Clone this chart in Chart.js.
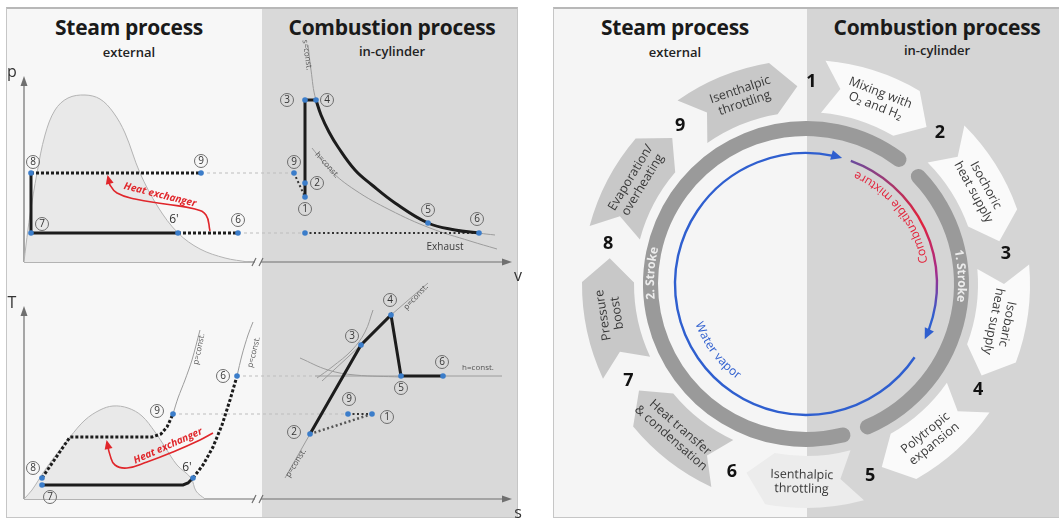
<!DOCTYPE html>
<html lang="en">
<head>
<meta charset="utf-8">
<title>Steam process and combustion process</title>
<script src="https://cdn.jsdelivr.net/npm/chart.js@4.4.1/dist/chart.umd.min.js"></script>
<style>
html,body{margin:0;padding:0;background:#fff;width:1059px;height:519px;overflow:hidden;font-family:"Open Sans","DejaVu Sans",sans-serif;}
.panel{position:absolute;box-sizing:border-box;border:1px solid #c6c6c6;border-top:2px solid #b8b8b8;}
#leftPanel{left:6px;top:7px;width:512px;height:511px;background:linear-gradient(to right,#f7f7f7 0,#f7f7f7 255px,#d9d9d9 255px);}
#rightPanel{left:553px;top:7px;width:506px;height:511px;border-right:none;background:linear-gradient(to right,#f5f5f5 0,#f5f5f5 253px,#d5d5d5 253px);}
.title{position:absolute;text-align:center;color:#1a1a1a;font-weight:700;font-size:21px;letter-spacing:-0.3px;line-height:26px;}
.sub{position:absolute;text-align:center;color:#222;font-weight:600;font-size:13px;line-height:16px;}
canvas{position:absolute;}
</style>
</head>
<body>
<div class="panel" id="leftPanel"></div>
<div class="panel" id="rightPanel"></div>
<div class="title" style="left:19px;top:14px;width:220px">Steam process</div>
<div class="sub" style="left:29px;top:44px;width:200px">external</div>
<div class="title" style="left:282px;top:14px;width:220px">Combustion process</div>
<div class="sub" style="left:292px;top:43px;width:200px">in-cylinder</div>
<div class="title" style="left:565px;top:14px;width:220px">Steam process</div>
<div class="sub" style="left:575px;top:44px;width:200px">external</div>
<div class="title" style="left:827px;top:14px;width:220px">Combustion process</div>
<div class="sub" style="left:832px;top:42px;width:210px">in-cylinder</div>
<canvas id="pv" width="540" height="260" style="left:0;top:30px"></canvas>
<canvas id="ts" width="540" height="249" style="left:0;top:270px"></canvas>
<canvas id="cycle" width="506" height="519" style="left:553px;top:0"></canvas>
<script>
// ================= DATA (schematic, arbitrary units) =================
// ---- p-v diagram ----
const pvDomeV = [0, 1, 3, 6.5, 10.5, 15.5, 22, 30.5, 38, 44.5, 50.5, 58, 67, 77, 88, 100.5, 112];
const pvDomeP = [0, 8.5, 23.5, 44.5, 63.5, 76, 82, 83.5, 81.5, 75, 64.5, 44.5, 27.5, 14.5, 6.5, 2, 0];
const pvExpV = [146, 148.5, 152.5, 157, 165.5, 174, 185.5, 202, 215.5, 227.5];
const pvExpP = [81, 73.5, 65, 57.5, 46, 38.5, 29.5, 19.5, 16, 14.5];
const pvSConstV = [142, 143.5, 146, 152.5, 165.5, 185.5, 202, 227.5, 235.5];
const pvSConstP = [108.5, 96, 81, 65, 46, 29.5, 19.5, 14.5, 13.5];
const pvHConstV = [144, 153, 165.5, 183, 203, 223, 236.5];
const pvHConstP = [57, 46, 36, 26, 17, 10.5, 6.5];
const pvHeatV = [93, 91, 85.5, 70.5, 55.5, 46.5, 43, 42];
const pvHeatP = [15.5, 23.5, 26.5, 29, 31.5, 34.5, 38.5, 42.5];
const pvMarkV = [3.5, 88.5, 3.5, 77, 107, 140.5, 146, 135, 140.5, 140.5, 202, 227.5, 140.5];
const pvMarkP = [44.5, 44.5, 14.5, 14.5, 14.5, 81, 81, 44.5, 39.5, 32.5, 19.5, 14.5, 14.5];
const pvStates = [['8', 4.5, 50], ['9', 88.5, 50.5], ['7', 9, 19], ['6', 107, 21], ['3', 131.5, 81], ['4', 151.5, 81],
                  ['9', 135, 50], ['2', 146.5, 39.5], ['1', 140.5, 26.5], ['5', 202, 26], ['6', 226.5, 21.5]];
const pvPlain = [["6'", 75, 21]];
const pvNotes = [['s=const.', 141.5, 103.5, 82], ['h=const.', 151.5, 48.5, 48], ['Exhaust', 210.5, 7.5, 0], ['Heat exchanger', 68, 33.5, 14]];

// ---- T-s diagram ----
const tsDomeS = [0, 4, 10.5, 17, 23, 30.5, 38, 44.5, 52, 59, 65.5, 70.5, 76.5, 83.5, 86, 90.5];
const tsDomeT = [0, 4.5, 14.5, 23.5, 31, 39.5, 44.5, 46.5, 45.5, 41.5, 33.5, 26, 17, 10.5, 4, 0];
const tsEvapS = [9, 23, 64, 68.5, 71.5, 74.5];
const tsEvapT = [10.5, 31, 31, 32.5, 36, 42.5];
const tsIso9S = [74.5, 77, 80.5, 84, 88];
const tsIso9T = [42.5, 50.5, 59.5, 69.5, 84.5];
const tsCondS = [9, 79.5, 82, 84.5];
const tsCondT = [7, 7, 8, 10.5];
const tsHeatS6 = [84.5, 89.5, 94.5, 99, 103, 106.5];
const tsHeatT6 = [10.5, 17, 26, 37, 49.5, 61.5];
const tsIso6S = [106.5, 109, 112, 114.5];
const tsIso6T = [61.5, 72, 82, 88.5];
const tsCombS = [143, 168.5, 183.5, 188.5, 209.5];
const tsCombT = [32.5, 77, 92, 61.5, 61.5];
const tsHeatS = [94.5, 88, 74.5, 61.5, 51.5, 45.5, 43, 41.5];
const tsHeatT = [33, 29.5, 23.5, 18.5, 15.5, 17, 22, 28.5];
const tsMarkS = [9, 9, 74.5, 106.5, 84.5, 143, 168.5, 183.5, 188.5, 209.5, 162, 174];
const tsMarkT = [10.5, 7, 42.5, 61.5, 10.5, 32.5, 77, 92, 61.5, 61.5, 42.5, 42.5];
const tsStates = [['8', 4.5, 15.5], ['7', 13, 1], ['9', 66.5, 44], ['6', 99.5, 61.5], ['2', 135, 33.5], ['3', 164, 81.5],
                  ['4', 183, 99.5], ['5', 188.5, 55.5], ['6', 209, 68.5], ['9', 162.5, 50], ['1', 181.5, 41]];
const tsPlain = [["6'", 81.5, 15.5]];
const tsNotes = [['p=const.', 87.5, 75, -78], ['p=const.', 115, 73.5, -76], ['p=const.', 136, 18, -58],
                 ['p=const.', 196, 101, -47], ['h=const.', 227, 65.5, 0], ['Heat exchanger', 72, 26.5, -24]];

// ---- cycle diagram ----
const stepNumbers = ['1', '2', '3', '4', '5', '6', '7', '8', '9'];
const stepNames = [['Mixing with', 'O\u2082 and H\u2082'], ['Isochoric', 'heat supply'], ['Isobaric', 'heat supply'],
                   ['Polytropic', 'expansion'], ['Isenthalpic', 'throttling'], ['Heat transfer', '& condensation'],
                   ['Pressure', 'boost'], ['Evaporation/', 'overheating'], ['Isenthalpic', 'throttling']];
const stepSpan = [40, 40, 40, 40, 40, 40, 40, 40, 40];
const stepSide = ['combustion', 'combustion', 'combustion', 'combustion', 'both', 'steam', 'steam', 'steam', 'steam'];
const strokeNames = ['1. Stroke', '2. Stroke'];
const strokeSpan = [120, 240];
const flowNames = ['Combustible mixture', 'Water vapor'];
const flowFrom = [20, 124];
const flowTo = [115, 376];

// ================= DRAWING =================
const FONT = '"Open Sans", "DejaVu Sans", sans-serif';
const pts = (xs, ys) => xs.map((x, i) => ({x: x, y: ys[i]}));
const L = (xs, ys, style) => Object.assign({data: pts(xs, ys), showLine: true, pointRadius: 0, pointHitRadius: 0,
  fill: false, tension: 0, borderCapStyle: 'butt'}, style);
const ST = {
  thick: {borderColor: '#1c1c1c', borderWidth: 3, order: 2},
  dash: {borderColor: '#1c1c1c', borderWidth: 3, borderDash: [3, 2], order: 2},
  dots: {borderColor: '#333', borderWidth: 2, borderDash: [2, 2.5], order: 2},
  thin: {borderColor: '#9c9c9c', borderWidth: 1, order: 4},
  link: {borderColor: '#bdbdbd', borderWidth: 1, borderDash: [3, 3], order: 5},
  red: {borderColor: '#e0262b', borderWidth: 1.6, tension: 0.45, order: 3},
  dome: {borderColor: '#b3b3b3', borderWidth: 1, backgroundColor: '#e9e9e9', fill: 'origin', tension: 0.35, order: 8}
};
const marks = (xs, ys) => ({data: pts(xs, ys), showLine: false, pointRadius: 2.8, pointBackgroundColor: '#3b7dca',
  pointBorderWidth: 0, pointHitRadius: 0, order: 0});

const decoPlugin = {
  id: 'deco',
  beforeDatasetsDraw(chart, args, o) {
    const ctx = chart.ctx, X = v => chart.scales.x.getPixelForValue(v), Y = v => chart.scales.y.getPixelForValue(v);
    const a = o.axis;
    const x0 = X(0), y0 = Y(0), yt = Y(a.yTop), xt = X(a.xEnd), xb = X(a.brk);
    ctx.save();
    ctx.strokeStyle = '#707070'; ctx.fillStyle = '#707070'; ctx.lineWidth = 1.2;
    ctx.beginPath(); ctx.moveTo(x0, y0); ctx.lineTo(x0, yt + 8); ctx.stroke();
    ctx.beginPath(); ctx.moveTo(x0, yt); ctx.lineTo(x0 - 3.5, yt + 10); ctx.lineTo(x0 + 3.5, yt + 10); ctx.closePath(); ctx.fill();
    ctx.beginPath(); ctx.moveTo(x0, y0); ctx.lineTo(xb - 3, y0); ctx.moveTo(xb + 3, y0); ctx.lineTo(xt - 8, y0); ctx.stroke();
    ctx.beginPath(); ctx.moveTo(xt, y0); ctx.lineTo(xt - 10, y0 - 3.5); ctx.lineTo(xt - 10, y0 + 3.5); ctx.closePath(); ctx.fill();
    ctx.beginPath(); ctx.moveTo(xb - 6, y0 + 4); ctx.lineTo(xb - 2, y0 - 4); ctx.moveTo(xb + 1, y0 + 4); ctx.lineTo(xb + 5, y0 - 4); ctx.stroke();
    ctx.fillStyle = '#333'; ctx.font = '16px ' + FONT; ctx.textAlign = 'center'; ctx.textBaseline = 'middle';
    ctx.fillText(a.yName, X(a.yNamePos[0]), Y(a.yNamePos[1]));
    ctx.fillText(a.xName, X(a.xNamePos[0]), Y(a.xNamePos[1]));
    ctx.restore();
  },
  afterDatasetsDraw(chart, args, o) {
    const ctx = chart.ctx, X = v => chart.scales.x.getPixelForValue(v), Y = v => chart.scales.y.getPixelForValue(v);
    ctx.save();
    (o.arrows || []).forEach(i => {
      const d = chart.getDatasetMeta(i).data, n = d.length;
      const p = d[n - 1], q = d[n - 2];
      const ang = Math.atan2(p.y - q.y, p.x - q.x);
      ctx.save(); ctx.translate(p.x, p.y); ctx.rotate(ang);
      ctx.fillStyle = '#e0262b';
      ctx.beginPath(); ctx.moveTo(2, 0); ctx.lineTo(-7, -4); ctx.lineTo(-7, 4); ctx.closePath(); ctx.fill();
      ctx.restore();
    });
    o.notes.forEach(([t, x, y, rot]) => {
      ctx.save(); ctx.translate(X(x), Y(y)); ctx.rotate(rot * Math.PI / 180);
      ctx.textAlign = 'center'; ctx.textBaseline = 'middle';
      if (t === 'Heat exchanger') { ctx.font = 'italic 700 10px ' + FONT; ctx.fillStyle = '#e0262b'; }
      else if (t === 'Exhaust') { ctx.font = '10px ' + FONT; ctx.fillStyle = '#3a3a3a'; }
      else { ctx.font = '8px ' + FONT; ctx.fillStyle = '#555'; }
      ctx.fillText(t, 0, 0); ctx.restore();
    });
    ctx.textAlign = 'center'; ctx.textBaseline = 'middle';
    o.states.forEach(([t, x, y]) => {
      const px = X(x), py = Y(y);
      ctx.beginPath(); ctx.arc(px, py, 6.5, 0, Math.PI * 2);
      ctx.strokeStyle = '#6d6d6d'; ctx.lineWidth = 1; ctx.stroke();
      ctx.fillStyle = '#333'; ctx.font = '10px ' + FONT;
      ctx.fillText(t, px, py + 0.5);
    });
    o.plain.forEach(([t, x, y]) => {
      ctx.fillStyle = '#333'; ctx.font = '12px ' + FONT;
      ctx.fillText(t, X(x), Y(y));
    });
    ctx.restore();
  }
};

function schematic(id, datasets, yMax, padding, deco) {
  return new Chart(document.getElementById(id), {
    type: 'scatter',
    data: {datasets: datasets},
    options: {
      responsive: false, animation: false, events: [],
      layout: {padding: padding},
      scales: {x: {type: 'linear', min: 0, max: 250, display: false}, y: {type: 'linear', min: 0, max: yMax, display: false}},
      plugins: {legend: {display: false}, tooltip: {enabled: false}, deco: deco}
    },
    plugins: [decoPlugin]
  });
}

// ---- p-v chart ----
const pvSets = [
  marks(pvMarkV, pvMarkP),
  L(pvHeatV, pvHeatP, ST.red),
  L([3.5, 3.5], [14.5, 44.5], ST.thick),
  L([3.5, 77], [14.5, 14.5], ST.thick),
  L([3.5, 88.5], [44.5, 44.5], ST.dash),
  L([77, 107], [14.5, 14.5], ST.dash),
  L([140.5, 140.5], [81, 33.5], ST.thick),
  L([140.5, 146], [81, 81], ST.thick),
  L(pvExpV, pvExpP, Object.assign({}, ST.thick, {tension: 0.4})),
  L([135, 140.5], [44.5, 32.5], ST.dots),
  L([140.5, 227.5], [14.5, 14.5], ST.dots),
  L([88.5, 135], [44.5, 44.5], ST.link),
  L([107, 140.5], [14.5, 14.5], ST.link),
  L(pvSConstV, pvSConstP, Object.assign({}, ST.thin, {tension: 0.4})),
  L(pvHConstV, pvHConstP, Object.assign({}, ST.thin, {tension: 0.4})),
  L(pvDomeV, pvDomeP, ST.dome)
];
schematic('pv', pvSets, 111, {left: 24, right: 16, top: 10, bottom: 28}, {
  axis: {yTop: 93, xEnd: 244, brk: 117, yName: 'p', xName: 'v', yNamePos: [-6, 95], xNamePos: [247, -7]},
  arrows: [1], states: pvStates, plain: pvPlain, notes: pvNotes
});

// ---- T-s chart ----
const tsSets = [
  marks(tsMarkS, tsMarkT),
  L(tsHeatS, tsHeatT, ST.red),
  L(tsEvapS, tsEvapT, ST.dash),
  L(tsCondS, tsCondT, ST.thick),
  L(tsHeatS6, tsHeatT6, ST.dash),
  L(tsCombS, tsCombT, ST.thick),
  L([143, 174], [32.5, 42.5], Object.assign({}, ST.dots, {borderColor: '#555', borderWidth: 2.5})),
  L([162, 174], [42.5, 42.5], ST.dots),
  L([74.5, 162], [42.5, 42.5], ST.link),
  L([106.5, 145.5], [61.5, 61.5], ST.link),
  L(tsIso9S, tsIso9T, Object.assign({}, ST.thin, {tension: 0.3})),
  L(tsIso6S, tsIso6T, Object.assign({}, ST.thin, {tension: 0.3})),
  L([130.5, 143], [10.5, 32.5], ST.thin),
  L([149, 168.5, 183.5, 202], [59, 77, 92, 108], ST.thin),
  L([138, 152, 165.5, 188.5], [70.5, 64.5, 62, 61], Object.assign({}, ST.thin, {tension: 0.4})),
  L([146.5, 154, 164, 170.5, 174.5], [60.5, 66, 74.5, 83.5, 94.5], Object.assign({}, ST.thin, {tension: 0.4})),
  L([145.5, 239], [61.5, 61.5], ST.thin),
  L(tsDomeS, tsDomeT, ST.dome)
];
schematic('ts', tsSets, 110, {left: 24, right: 16, top: 9, bottom: 20}, {
  axis: {yTop: 96.5, xEnd: 244, brk: 117, yName: 'T', xName: 's', yNamePos: [-6, 98], xNamePos: [247, -7]},
  arrows: [1], states: tsStates, plain: tsPlain, notes: tsNotes
});

// ---- cycle chart ----
const D2R = Math.PI / 180;
function arcText(ctx, text, cx, cy, r, midDeg, dir, color, font) {
  ctx.save(); ctx.font = font; ctx.fillStyle = color; ctx.textAlign = 'center'; ctx.textBaseline = 'middle';
  const total = ctx.measureText(text).width;
  let c = (midDeg - 90) * D2R - dir * total / (2 * r);
  for (const ch of text) {
    const w = ctx.measureText(ch).width;
    const cc = c + dir * w / (2 * r);
    ctx.save();
    ctx.translate(cx + r * Math.cos(cc), cy + r * Math.sin(cc));
    ctx.rotate(cc + dir * Math.PI / 2);
    ctx.fillText(ch, 0, 0);
    ctx.restore();
    c += dir * w / r;
  }
  ctx.restore();
}
function arrowHead(ctx, cx, cy, r, deg, color) {
  const c = (deg - 90) * D2R;
  const px = cx + r * Math.cos(c), py = cy + r * Math.sin(c);
  ctx.save(); ctx.translate(px, py); ctx.rotate(c + Math.PI / 2);
  ctx.fillStyle = color;
  ctx.beginPath(); ctx.moveTo(0, 0); ctx.lineTo(-11, -5); ctx.lineTo(-11, 5); ctx.closePath(); ctx.fill();
  ctx.restore();
}
const sideColor = {combustion: '#fafafa', both: '#ececec', steam: '#c8c8c8'};

const cyclePlugin = {
  id: 'cycle',
  beforeDatasetsDraw(chart, args, o) {
    const ctx = chart.ctx;
    const meta = chart.getDatasetMeta(1);
    meta.data.forEach((arc, i) => {
      const p = arc.getProps(['x', 'y', 'startAngle', 'endAngle', 'innerRadius', 'outerRadius'], true);
      const ri = p.innerRadius, ro = p.outerRadius, rm = (ri + ro) / 2;
      const tail = p.startAngle + 3.5 * D2R, notch = p.startAngle + 8.5 * D2R;
      const head = p.endAngle - 11 * D2R, tip = p.endAngle - 4 * D2R;
      ctx.save();
      ctx.fillStyle = sideColor[stepSide[i]];
      ctx.beginPath();
      ctx.arc(p.x, p.y, ro, tail, head);
      ctx.lineTo(p.x + rm * Math.cos(tip), p.y + rm * Math.sin(tip));
      ctx.lineTo(p.x + ri * Math.cos(head), p.y + ri * Math.sin(head));
      ctx.arc(p.x, p.y, ri, head, tail, true);
      ctx.lineTo(p.x + rm * Math.cos(notch), p.y + rm * Math.sin(notch));
      ctx.closePath(); ctx.fill();
      const mid = (tail + tip) / 2;
      const theta = mid / D2R + 90;
      const flip = theta > 115 && theta < 245;
      ctx.translate(p.x + rm * Math.cos(mid), p.y + rm * Math.sin(mid));
      ctx.rotate(flip ? mid - Math.PI / 2 : mid + Math.PI / 2);
      ctx.fillStyle = '#3a3a3a'; ctx.font = '12.5px ' + FONT; ctx.textAlign = 'center'; ctx.textBaseline = 'middle';
      const lines = stepNames[i], lh = 14;
      lines.forEach((t, k) => ctx.fillText(t, 0, (k - (lines.length - 1) / 2) * lh));
      ctx.restore();
      ctx.save();
      ctx.fillStyle = '#121212'; ctx.font = '700 18px ' + FONT; ctx.textAlign = 'center'; ctx.textBaseline = 'middle';
      ctx.fillText(stepNumbers[i], p.x + (rm + 4) * Math.cos(p.startAngle), p.y + (rm + 4) * Math.sin(p.startAngle));
      ctx.restore();
    });
  },
  afterDatasetsDraw(chart, args, o) {
    const ctx = chart.ctx;
    const ring = chart.getDatasetMeta(3).data[0].getProps(['x', 'y', 'innerRadius', 'outerRadius'], true);
    const cx = ring.x, cy = ring.y, rr = (ring.innerRadius + ring.outerRadius) / 2;
    arcText(ctx, strokeNames[0], cx, cy, rr, 87, 1, '#ececec', '700 12px ' + FONT);
    arcText(ctx, strokeNames[1], cx, cy, rr, 274, 1, '#ececec', '700 12px ' + FONT);
    const r = o.flowRadius;
    ctx.save();
    ctx.lineWidth = 2.4;
    const g = ctx.createConicGradient(-Math.PI / 2, cx, cy);
    g.addColorStop(0, '#2f5fcf'); g.addColorStop(0.17, '#e3223a'); g.addColorStop(0.235, '#a52c8a');
    g.addColorStop(0.29, '#2f5fcf'); g.addColorStop(1, '#2f5fcf');
    ctx.strokeStyle = g;
    ctx.beginPath(); ctx.arc(cx, cy, r, (flowFrom[0] - 90) * D2R, (flowTo[0] - 90) * D2R - 9 / r); ctx.stroke();
    arrowHead(ctx, cx, cy, r, flowTo[0], '#2f5fcf');
    ctx.strokeStyle = '#2f5fcf';
    ctx.beginPath(); ctx.arc(cx, cy, r, (flowFrom[1] - 90) * D2R, (flowTo[1] - 90) * D2R - 9 / r); ctx.stroke();
    arrowHead(ctx, cx, cy, r, flowTo[1], '#2f5fcf');
    ctx.restore();
    arcText(ctx, flowNames[0], cx, cy, r - 11, 52, -1, '#e3223a', '12px ' + FONT);
    arcText(ctx, flowNames[1], cx, cy, r - 17, 233, -1, '#2f5fcf', '12px ' + FONT);
  }
};

const gap = 4;
new Chart(document.getElementById('cycle'), {
  type: 'doughnut',
  data: {
    labels: stepNumbers,
    datasets: [
      {label: 'rim', data: [360], backgroundColor: 'rgba(0,0,0,0)', weight: 2, borderWidth: 0, hoverOffset: 0, offset: 0},
      {label: 'steps', data: stepSpan, backgroundColor: 'rgba(0,0,0,0)', weight: 52, borderWidth: 0, hoverOffset: 0, offset: 0, rotation: 1.5},
      {label: 'space', data: [360], backgroundColor: 'rgba(0,0,0,0)', weight: 9, borderWidth: 0, hoverOffset: 0, offset: 0},
      {label: 'strokes', data: [strokeSpan[0] - gap, gap, strokeSpan[1] - gap, gap],
       backgroundColor: ['#9a9a9a', 'rgba(0,0,0,0)', '#9a9a9a', 'rgba(0,0,0,0)'],
       weight: 15, borderWidth: 0, hoverOffset: 0, offset: 0, borderRadius: 8, rotation: 41.5 + gap / 2}
    ]
  },
  options: {
    responsive: false, animation: false, events: [], cutout: 148,
    layout: {padding: {left: 27, right: 27, top: 58, bottom: 9}},
    plugins: {legend: {display: false}, tooltip: {enabled: false}, cycle: {flowRadius: 131}}
  },
  plugins: [cyclePlugin]
});
</script>
</body>
</html>
